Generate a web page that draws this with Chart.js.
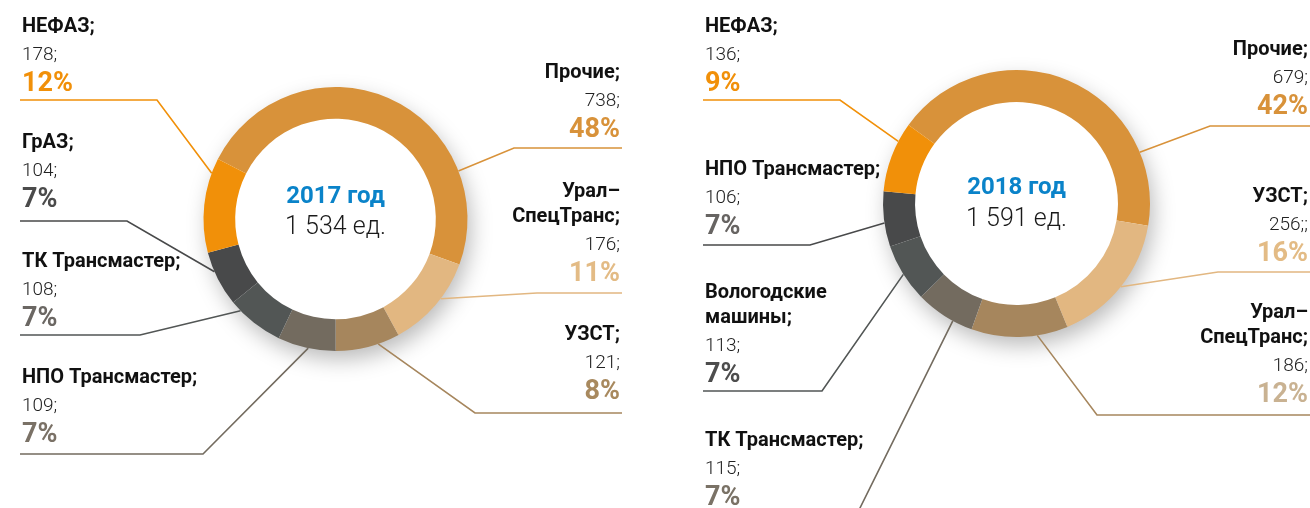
<!DOCTYPE html>
<html>
<head>
<meta charset="utf-8">
<script src="https://cdn.jsdelivr.net/npm/chart.js@4"></script>
<style>
  html, body { margin: 0; padding: 0; background: #fff; }
  #wrap { position: relative; width: 1310px; height: 508px; overflow: hidden; }
  #wrap canvas { position: absolute; left: 0; top: 0; }
</style>
</head>
<body>
<div id="wrap">
  <canvas id="chart2017" width="1310" height="508"></canvas>
  <canvas id="chart2018" width="1310" height="508"></canvas>
</div>
<script>
// данные 2017
const year2017 = '2017 год';
const labels2017 = ['Прочие', ['Урал–', 'СпецТранс'], 'УЗСТ', 'НПО Трансмастер', 'ТК Трансмастер', 'ГрАЗ', 'НЕФАЗ'];
const values2017 = [738, 176, 121, 109, 108, 104, 178];
const valueText2017 = ['738;', '176;', '121;', '109;', '108;', '104;', '178;'];
const pct2017 = ['48%', '11%', '8%', '7%', '7%', '7%', '12%'];

// данные 2018
const year2018 = '2018 год';
const labels2018 = ['Прочие', 'УЗСТ', ['Урал–', 'СпецТранс'], 'ТК Трансмастер', ['Вологодские', 'машины'], 'НПО Трансмастер', 'НЕФАЗ'];
const values2018 = [679, 256, 186, 115, 113, 106, 136];
const valueText2018 = ['679;', '256;;', '186;', '115;', '113;', '106;', '136;'];
const pct2018 = ['42%', '16%', '12%', '7%', '7%', '7%', '9%'];

const C = {
    other: '#d8923a',
    nefaz: '#f19009',
    light: '#e2b781',
    brown: '#a6865d',
    greyBrown: '#736b5f',
    slate: '#525655',
    dark: '#48494a'
};
const FONT = 'Roboto, "Noto Sans", sans-serif';

function fmtTotal(arr) {
    const s = String(arr.reduce((a, b) => a + b, 0));
    return s.replace(/\B(?=(\d{3})+(?!\d))/g, ' ') + ' ед.';
}

// тень под кольцом
const ringShadow = {
    id: 'ringShadow',
    beforeDatasetsDraw(chart) {
        const arc = chart.getDatasetMeta(0).data[0];
        if (!arc) return;
        const ctx = chart.ctx;
        ctx.save();
        ctx.shadowColor = 'rgba(0,0,0,0.28)';
        ctx.shadowBlur = 22;
        ctx.shadowOffsetX = 4;
        ctx.shadowOffsetY = 9;
        ctx.fillStyle = '#ffffff';
        ctx.beginPath();
        ctx.arc(arc.x, arc.y, arc.outerRadius - 1, 0, Math.PI * 2);
        ctx.fill();
        ctx.restore();
        ctx.save();
        ctx.fillStyle = '#ffffff';
        ctx.beginPath();
        ctx.arc(arc.x, arc.y, arc.innerRadius, 0, Math.PI * 2);
        ctx.fill();
        ctx.restore();
    }
};

// подписи с выносками
const callouts = {
    id: 'callouts',
    afterDatasetsDraw(chart, args, opts) {
        const ctx = chart.ctx;
        const meta = chart.getDatasetMeta(0);
        const ds = chart.data.datasets[0];
        const labels = chart.data.labels;
        opts.layout.forEach((lay, i) => {
            const arc = meta.data[i];
            const a = arc.startAngle + lay.frac * (arc.endAngle - arc.startAngle);
            const ex = arc.x + Math.cos(a) * arc.outerRadius;
            const ey = arc.y + Math.sin(a) * arc.outerRadius;

            ctx.save();
            ctx.strokeStyle = lay.line || ds.backgroundColor[i];
            ctx.lineWidth = 1.6;
            ctx.beginPath();
            ctx.moveTo(lay.align === 'left' ? lay.x - 2 : lay.x + 2, lay.lineY);
            ctx.lineTo(lay.elbow, lay.lineY);
            ctx.lineTo(ex, ey);
            ctx.stroke();

            ctx.textAlign = lay.align;
            ctx.textBaseline = 'middle';
            let name = labels[i];
            name = Array.isArray(name) ? name.slice() : [name];
            name[name.length - 1] += ';';
            let y = lay.top;
            ctx.fillStyle = '#111';
            ctx.font = 'bold 20px ' + FONT;
            name.forEach((ln, k) => {
                ctx.fillText(ln, lay.x, y);
                if (k < name.length - 1) y += 25;
            });
            y += 28;
            ctx.fillStyle = '#222';
            ctx.font = '300 19px ' + FONT;
            ctx.fillText(opts.valueText[i], lay.x, y);
            y += 29;
            ctx.fillStyle = lay.pct;
            ctx.font = 'bold 27px ' + FONT;
            ctx.fillText(opts.pct[i], lay.x, y);
            ctx.restore();
        });
    }
};

const centerText = {
    id: 'centerText',
    afterDraw(chart, args, opts) {
        const arc = chart.getDatasetMeta(0).data[0];
        const ctx = chart.ctx;
        ctx.save();
        ctx.textAlign = 'center';
        ctx.textBaseline = 'middle';
        ctx.fillStyle = '#0a83c9';
        ctx.font = 'bold 24px ' + FONT;
        ctx.fillText(opts.title, arc.x, arc.y + opts.dy[0]);
        ctx.fillStyle = '#1a1a1a';
        ctx.font = '300 25px ' + FONT;
        ctx.fillText(opts.total, arc.x, arc.y + opts.dy[1]);
        ctx.restore();
    }
};

function makeChart(id, labels, values, colors, rotation, padding, plugOpts) {
    return new Chart(document.getElementById(id), {
        type: 'doughnut',
        data: {
            labels: labels,
            datasets: [{
                data: values,
                backgroundColor: colors,
                borderWidth: 0
            }]
        },
        options: {
            responsive: false,
            animation: false,
            cutout: '76%',
            rotation: rotation,
            layout: { padding: padding },
            events: [],
            plugins: {
                legend: { display: false },
                tooltip: { enabled: false },
                callouts: plugOpts.callouts,
                centerText: plugOpts.center
            }
        },
        plugins: [ringShadow, callouts, centerText]
    });
}

// 2017
makeChart('chart2017', labels2017, values2017,
    [C.other, C.light, C.brown, C.greyBrown, C.slate, C.dark, C.nefaz],
    -63,
    { top: 87, bottom: 157, left: 203.5, right: 842.5 },
    {
        center: { title: year2017, total: fmtTotal(values2017), dy: [-22, 9] },
        callouts: {
            valueText: valueText2017,
            pct: pct2017,
            layout: [
                { align: 'right', x: 620, top: 73, lineY: 148, elbow: 514, frac: 0.76, pct: '#d8923a' },
                { align: 'right', x: 620, top: 192, lineY: 293, elbow: 537, frac: 0.41, pct: '#e3bb85' },
                { align: 'right', x: 620, top: 335, lineY: 413, elbow: 475, frac: 0.34, pct: '#a8895e' },
                { align: 'left', x: 22, top: 378, lineY: 454, elbow: 203, frac: 0.47, pct: '#7a7166' },
                { align: 'left', x: 22, top: 262, lineY: 335, elbow: 140, frac: 0.81, pct: '#6b6763' },
                { align: 'left', x: 22, top: 143, lineY: 221, elbow: 127, frac: 0.64, pct: '#4b4b4b' },
                { align: 'left', x: 22, top: 27, lineY: 100, elbow: 157, frac: 0.84, pct: '#f19009' }
            ]
        }
    });

// 2018
makeChart('chart2018', labels2018, values2018,
    [C.other, C.light, C.brown, C.greyBrown, C.slate, C.dark, C.nefaz],
    -54,
    { top: 70, bottom: 171, left: 883, right: 160 },
    {
        center: { title: year2018, total: fmtTotal(values2018), dy: [-16, 16] },
        callouts: {
            valueText: valueText2018,
            pct: pct2018,
            layout: [
                { align: 'right', x: 1308, top: 50, lineY: 126, elbow: 1210, frac: 0.79, pct: '#d8923a' },
                { align: 'right', x: 1308, top: 197, lineY: 272, elbow: 1218, frac: 0.50, pct: '#e3bb85' },
                { align: 'right', x: 1308, top: 313, lineY: 415, elbow: 1097, frac: 0.32, pct: '#c9b292' },
                { align: 'left', x: 705, top: 441, lineY: 514, elbow: 857, frac: 0.34, pct: '#7a7266' },
                { align: 'left', x: 705, top: 293, lineY: 391, elbow: 822, frac: 0.48, pct: '#4d4d4d' },
                { align: 'left', x: 705, top: 170, lineY: 245, elbow: 810, frac: 0.43, pct: '#676462' },
                { align: 'left', x: 705, top: 27, lineY: 100, elbow: 840, frac: 0.73, pct: '#f19009' }
            ]
        }
    });
</script>
</body>
</html>
